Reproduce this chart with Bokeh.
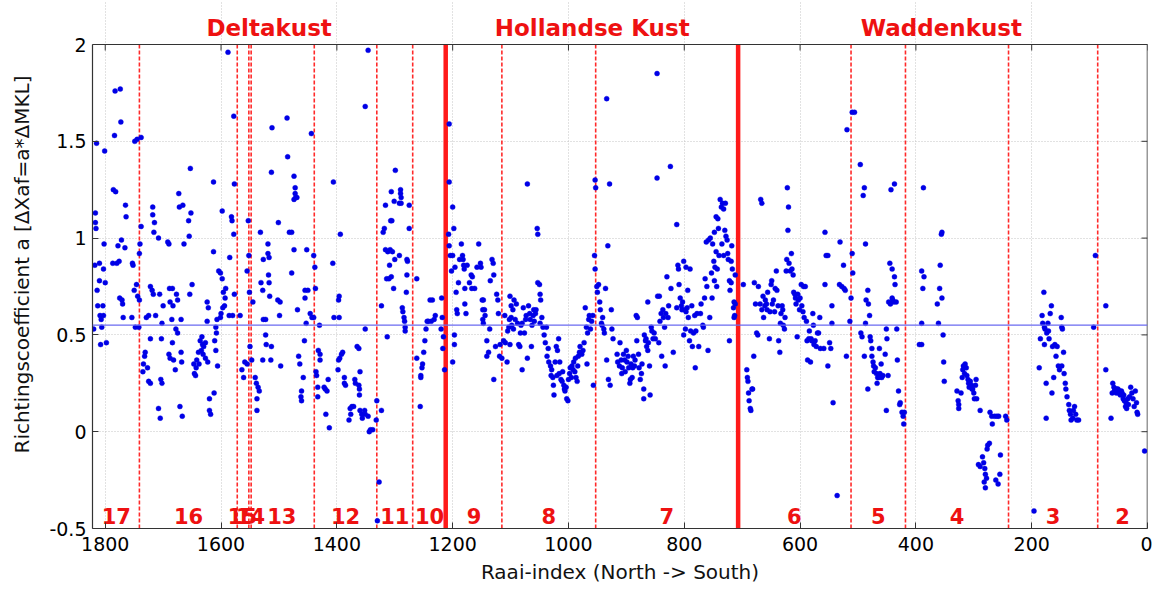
from bokeh.plotting import figure
from bokeh.models import Range1d, FixedTicker, Span, ColumnDataSource
from bokeh.core.properties import value
from bokeh.embed import file_html
from bokeh.resources import INLINE

# ---------------- data ----------------
delta_x = [1820, 1818, 1815, 1817, 1817, 1816, 1810, 1814, 1813, 1810, 1809, 1807, 1806, 1808, 1804, 1803, 1801, 1800, 1802, 1798, 1803,
           1786, 1782, 1783, 1774, 1784, 1773, 1787, 1780, 1776, 1778, 1772, 1765, 1764, 1766, 1775, 1771, 1770, 1769,
           1753, 1752, 1754, 1750, 1746, 1744, 1741, 1748, 1749, 1745, 1738, 1741, 1740, 1738, 1742,
           1731, 1732, 1734, 1735, 1727, 1725, 1722, 1729, 1725, 1722, 1719, 1717, 1713, 1722, 1718, 1718, 1715, 1716, 1708, 1706, 1703, 1702, 1700, 1704, 1702, 1708, 1705,
           1692, 1690, 1689, 1684, 1688, 1683, 1685, 1684, 1690, 1688, 1682, 1679, 1677, 1675, 1678, 1675, 1669, 1669, 1668, 1673, 1672, 1666, 1671, 1667, 1664, 1655, 1656, 1652, 1653, 1654, 1650,
           1647, 1646, 1644, 1643, 1642, 1639, 1636, 1633, 1632, 1630, 1638, 1634, 1631, 1627, 1623, 1627, 1624, 1624, 1622, 1620, 1620, 1618, 1612, 1613, 1613, 1609, 1608, 1611, 1609, 1606, 1607,
           1604, 1601, 1598, 1596, 1593, 1594, 1597, 1600, 1601, 1592, 1598, 1588, 1585, 1582, 1581, 1578, 1577, 1578, 1586, 1577, 1580,
           1567, 1564, 1561, 1559, 1555, 1555, 1553, 1552, 1551, 1550, 1547,
           1545, 1541, 1539, 1536, 1534, 1538, 1538, 1532, 1528, 1528, 1531, 1527, 1527,
           1519, 1519, 1517, 1518, 1517, 1516, 1523, 1523, 1522, 1513, 1514, 1512, 1513, 1501, 1502, 1498, 1499, 1497, 1486, 1485, 1482, 1478, 1478, 1474, 1474, 1472, 1472, 1471, 1474, 1469,
           1468, 1466, 1464, 1461, 1462, 1461, 1458, 1456, 1455, 1455, 1450, 1452, 1453, 1446, 1443, 1444, 1440, 1438, 1437, 1440,
           1436, 1435, 1433, 1433, 1430, 1432, 1429, 1429, 1422, 1420, 1417, 1415, 1419, 1413, 1406, 1407, 1405, 1398, 1397, 1395, 1392, 1390, 1397, 1396, 1396, 1394,
           1387, 1387, 1385, 1369, 1365, 1362, 1368, 1362, 1361, 1361, 1360, 1351, 1377, 1374, 1371, 1379, 1376, 1360, 1357, 1356, 1352, 1351, 1346, 1344, 1342, 1338, 1332, 1331, 1351, 1346, 1327, 1330,
           1323, 1323, 1320, 1318, 1316, 1313, 1316, 1312, 1308, 1304, 1314, 1310, 1306, 1309, 1307, 1305, 1306, 1301, 1299, 1302, 1300, 1292, 1290, 1290, 1289, 1289, 1292,
           1287, 1286, 1284, 1283, 1282, 1282, 1280, 1279, 1278, 1279, 1275, 1275,
           1262, 1262, 1256, 1255, 1255, 1253, 1252, 1250, 1248, 1246, 1244, 1242, 1239, 1235, 1237, 1232, 1230, 1219, 1218, 1220, 1216, 1217, 1214]
delta_y = [0.53, 0.86, 1.49, 1.08, 1.13, 1.05, 0.87, 0.73, 0.65, 0.78, 0.60, 0.58, 0.54, 0.45, 0.65, 0.84, 1.45, 0.77, 0.97, 0.46, 0.60,
           1.25, 1.24, 1.76, 1.77, 1.53, 1.60, 0.87, 0.87, 0.88, 0.96, 0.99, 1.17, 1.11, 0.95, 0.69, 0.68, 0.66, 0.59,
           0.87, 0.86, 0.59, 0.73, 0.76, 0.70, 0.68, 0.54, 1.50, 1.51, 1.52, 0.92, 0.97, 1.06, 0.54,
           0.41, 0.39, 0.35, 0.31, 0.33, 0.26, 0.25, 0.59, 0.60, 0.75, 0.73, 0.71, 0.60, 0.48, 1.16, 1.12, 1.08, 1.03, 1.00, 0.71, 0.48, 0.56, 0.65, 0.27, 0.25, 0.12, 0.07,
           0.98, 0.97, 0.74, 0.74, 0.67, 0.65, 0.58, 0.46, 0.40, 0.38, 0.37, 0.32, 0.71, 0.68, 0.53, 0.51, 0.58, 0.41, 0.36, 1.23, 1.16, 1.17, 0.13, 0.08, 0.97, 1.01, 1.09, 1.13, 1.36, 0.71, 0.76,
           0.35, 0.30, 0.29, 0.33, 0.37, 0.41, 0.47, 0.49, 0.45, 0.44, 0.35, 0.42, 0.40, 0.38, 0.36, 0.46, 0.57, 0.67, 0.64, 0.17, 0.11, 0.09, 0.20, 0.93, 1.29, 0.54, 0.51, 0.47, 0.42, 0.34, 0.58,
           0.83, 0.82, 0.79, 0.72, 0.69, 0.65, 0.64, 0.61, 0.59, 0.74, 1.14, 1.96, 0.90, 1.11, 1.09, 1.63, 1.28, 1.02, 0.60, 0.71, 0.60,
           0.60, 0.32, 0.28, 0.36, 0.35, 0.83, 1.09, 0.91, 0.72, 0.44, 0.37,
           0.67, 0.28, 0.25, 0.23, 0.21, 0.17, 0.11, 1.03, 0.37, 0.73, 0.77, 0.58, 0.89,
           0.97, 0.92, 0.90, 0.81, 0.77, 0.70, 0.58, 0.50, 0.45, 0.44, 0.37, 1.57, 1.34, 1.08, 0.68, 0.67, 0.60, 0.34, 1.62, 1.42, 1.03, 1.03, 0.82, 0.94, 1.32, 1.26, 1.23, 1.21, 1.20, 1.21,
           0.63, 0.39, 0.35, 0.21, 0.18, 0.16, 0.28, 0.47, 0.69, 0.73, 0.73, 0.94, 0.56, 0.61, 0.59, 1.54, 0.91, 0.85, 0.74, 0.59,
           0.31, 0.29, 0.23, 0.18, 0.55, 0.42, 0.40, 0.37, 0.23, 0.22, 0.21, 0.27, 0.09, 0.02, 1.29, 0.87, 0.59, 0.32, 0.37, 0.38, 0.40, 0.41, 0.68, 0.70, 0.59, 1.02,
           0.28, 0.25, 0.24, 0.27, 0.44, 0.43, 0.25, 0.24, 0.22, 0.19, 0.31, 0.53, 0.12, 0.13, 0.13, 0.06, 0.09, 0.11, 0.09, 0.07, 0.11, 0.09, 0.08, 0.00, 0.01, 0.01, 0.06, 0.16, 1.68, 1.97, -0.26, -0.46,
           0.11, 0.65, 1.03, 1.05, 1.17, 0.49, 0.94, 0.93, 0.94, 0.93, 0.79, 0.79, 0.80, 0.86, 1.09, 1.09, 1.24, 1.19, 1.35, 0.74, 0.89, 0.91, 1.25, 1.23, 1.21, 1.18, 1.18,
           0.64, 0.62, 0.59, 0.57, 0.54, 0.52, 0.72, 0.89, 0.88, 0.81, 1.05, 1.17,
           0.79, 0.38, 0.13, 0.28, 0.29, 0.33, 0.35, 0.41, 0.47, 0.53, 0.57, 0.57, 0.68, 0.68, 0.57, 0.58, 0.60, 0.69, 0.59, 0.53, 0.49, 0.43, 0.32]

holland_x = [1206, 1206, 1200, 1198, 1207, 1206, 1204, 1202, 1200, 1196, 1194, 1190, 1193, 1192, 1197, 1197, 1200,
             1188, 1185, 1183, 1182, 1181, 1180, 1179, 1179, 1177, 1175, 1171, 1168, 1166, 1167, 1162, 1158, 1155, 1152, 1151,
             1149, 1148, 1148, 1147, 1145, 1144, 1147, 1141, 1141, 1138, 1136, 1135, 1132, 1130, 1129, 1129, 1126, 1124, 1122, 1121, 1119, 1118, 1115,
             1112, 1110, 1109, 1106, 1105, 1103, 1102, 1101, 1099, 1101, 1099, 1098, 1096, 1095, 1094, 1092, 1090, 1088, 1086, 1084, 1083, 1082, 1080, 1080,
             1078, 1076, 1074, 1073, 1071, 1071, 1069, 1067, 1066, 1064, 1063, 1061, 1060, 1059, 1057, 1056, 1054, 1053, 1053, 1050, 1049, 1048, 1049, 1046, 1044,
             1042, 1040, 1038, 1037, 1035, 1034, 1031, 1030, 1029, 1027, 1026, 1025, 1023, 1021, 1020, 1019, 1017, 1016, 1015, 1013, 1011, 1010, 1008, 1007, 1006,
             1004, 1003, 1001, 1000, 998, 997, 995, 994, 992, 991, 989, 988, 987, 985, 984, 983, 981, 980, 977, 975, 973, 971, 969, 968, 967, 965, 964, 962, 960, 958, 957, 955, 954, 954, 953,
             951, 950, 948, 946, 945, 943, 942, 941, 939, 938, 936, 934, 932, 934, 931, 929, 928, 926, 925, 923,
             916, 915, 912, 911, 909, 908, 907, 905, 903, 902, 900, 899, 897, 896, 894, 893, 892, 890, 889, 888, 886, 885, 883, 882, 881,
             879, 878, 876, 874, 873, 870, 870, 869, 867, 866, 865, 863, 863, 862, 860, 859, 857, 856, 854, 852, 850, 847, 847,
             846, 844, 843, 842, 840, 839, 837, 836, 834, 833, 832, 830, 828, 827, 824, 823, 819, 813, 811, 810, 809, 813, 807, 805, 804, 803, 801, 801,
             800, 798, 797, 797, 795, 794, 793, 791, 790, 789, 787, 786, 784, 782, 781, 780, 778, 775, 772, 771, 768, 767, 765, 764, 762, 761, 759, 758,
             756, 755, 753, 752, 751, 749, 748, 748, 747, 745, 745, 744, 743, 742, 741, 740, 738, 736, 735, 734, 732, 732, 730, 729, 728, 726, 725, 724,
             722, 722, 721, 719, 719, 718, 717, 715, 714, 714, 713, 712, 712]
holland_y = [1.59, 1.29, 1.16, 1.05, 1.02, 0.96, 0.91, 0.83, 0.91, 0.85, 0.72, 0.77, 0.63, 0.61, 0.50, 0.45, 0.36,
             0.89, 0.97, 0.91, 0.89, 0.86, 0.84, 0.74, 0.66, 0.61, 0.86, 0.77, 0.81, 0.80, 0.74, 0.74, 0.85, 0.97, 0.87, 0.85,
             0.68, 0.63, 0.58, 0.68, 0.63, 0.60, 0.56, 0.47, 0.39, 0.41, 0.53, 0.78, 0.89, 0.87, 0.81, 0.27, 0.44, 0.71, 0.68, 0.61, 0.39, 0.45, 0.38,
             0.47, 0.60, 0.46, 0.36, 0.52, 0.54, 0.58, 0.70, 0.65, 0.45, 0.59, 0.55, 0.63, 0.53, 0.68, 0.58, 0.66, 0.56, 0.45, 0.44, 0.51, 0.55, 0.32, 0.56,
             0.64, 0.51, 0.58, 0.60, 1.28, 0.38, 0.65, 0.61, 0.58, 0.44, 0.55, 0.60, 0.63, 0.57, 0.61, 0.63, 1.05, 1.02, 0.77, 0.76, 0.71, 0.68, 0.56, 0.59, 0.54,
             0.50, 0.46, 0.54, 0.39, 0.43, 0.36, 0.34, 0.29, 0.32, 0.28, 0.24, 0.19, 0.36, 0.44, 0.29, 0.42, 0.48, 0.30, 0.36, 0.27, 0.26, 0.31, 0.24, 0.22, 0.21,
             0.23, 0.17, 0.16, 0.27, 0.30, 0.33, 0.28, 0.34, 0.32, 0.36, 0.31, 0.38, 0.28, 0.26, 0.34, 0.39, 0.41, 0.44, 0.40, 0.42, 0.46, 0.64, 0.54, 0.35, 0.51, 0.58, 0.60, 0.53, 0.57, 0.60, 0.24, 0.91, 0.84, 1.30, 1.26,
             0.75, 0.72, 0.76, 0.67, 0.63, 0.56, 0.55, 0.59, 0.53, 0.51, 0.74, 1.72, 0.96, 0.37, 0.27, 1.28, 0.24, 0.63, 0.53, 0.48,
             0.40, 0.36, 0.34, 0.46, 0.37, 0.30, 0.33, 0.40, 0.37, 0.31, 0.42, 0.36, 0.39, 0.33, 0.25, 0.27, 0.35, 0.28, 0.33, 0.39, 0.34, 0.37, 0.60, 0.47, 0.59,
             0.40, 0.33, 0.27, 0.30, 0.35, 0.17, 0.22, 0.50, 0.47, 0.48, 0.44, 0.67, 0.42, 0.46, 0.34, 0.19, 0.54, 0.52, 0.48, 0.51, 0.48, 1.31, 1.85,
             0.70, 0.46, 0.70, 0.57, 0.61, 0.39, 0.63, 0.59, 0.54, 0.34, 0.61, 0.80, 0.59, 0.65, 1.37, 0.74, 0.41, 1.07, 0.86, 0.84, 0.76, 0.64, 0.69, 0.65, 0.63, 0.67, 0.88, 0.50,
             0.63, 0.53, 0.62, 0.85, 0.64, 0.73, 0.59, 0.47, 0.84, 0.52, 0.65, 0.44, 0.51, 0.60, 0.33, 0.52, 0.61, 0.44, 0.61, 0.66, 0.55, 0.54, 0.69, 0.79, 0.98, 0.75, 0.42, 0.99,
             0.59, 1.00, 0.82, 0.69, 0.97, 0.88, 0.78, 1.03, 0.85, 0.93, 1.11, 0.75, 0.84, 1.10, 1.05, 0.91, 1.20, 1.16, 0.97, 1.18, 1.15, 0.91, 1.04, 1.18, 1.01, 0.99, 0.92, 0.89,
             0.47, 0.78, 0.73, 0.88, 0.77, 0.96, 0.84, 0.64, 0.59, 0.67, 0.60, 0.81, 0.66]

wadden_x = [698, 692, 691, 690, 689, 688, 686, 685, 683, 682, 680, 679, 677, 675, 673, 672, 669, 668, 666, 666, 664, 663, 661, 660, 658, 657, 656, 653, 652,
            650, 649, 648, 646, 644, 643, 641, 640, 638, 637, 635, 634, 633, 631, 630, 629, 627, 626, 624, 623, 622, 621, 620, 619, 617,
            615, 614, 612, 611, 609, 608, 607, 605, 604, 603, 601, 600, 598, 597, 595, 594, 593, 591, 589, 588, 587, 585, 584, 582, 581, 580, 578, 577, 576, 574, 572,
            570, 568, 566, 565, 559, 557, 555, 552, 557, 552, 549, 547, 545, 545, 543, 536, 532, 531, 528, 525, 524, 522, 520, 519, 514,
            512, 510, 509, 510, 506, 496, 495, 493, 491, 489, 487, 489, 487, 486, 483, 483, 482, 480, 479, 478, 476, 476, 474, 473, 472, 470, 468, 467, 466, 464,
            463, 462, 460, 459, 457, 453, 451, 451, 450, 448, 447, 445, 444, 443, 441, 441, 440, 438, 437, 437, 436, 434, 433, 432, 430, 428, 427, 424, 422, 421, 420,
            394, 390, 390, 388, 387, 386, 390, 363, 361, 359, 358, 356, 355, 355, 353, 352, 351,
            329, 327, 326, 326, 322, 320, 319, 318, 316, 315, 313, 312, 310, 309, 308, 306, 304, 303, 302, 300, 299, 297, 296, 295, 289,
            272, 269, 268, 264, 260, 257, 245, 243,
            292, 289, 285, 283, 281, 280, 277, 276, 273, 254, 255, 280, 258, 282, 278, 262, 196,
            187, 185, 182, 181, 179, 178, 178, 177, 175, 175, 174, 172, 171, 170, 168, 166, 165, 164, 162, 160, 158, 156, 154, 152, 149, 148, 147, 148, 145, 144,
            142, 141, 139, 136, 135, 133, 132, 129, 128, 126, 124, 122, 119, 93, 90,
            72, 72, 63, 61, 60, 58, 57, 56, 54, 53, 51, 50, 48, 47, 45, 44, 42, 41, 40, 38, 37, 36, 34, 33, 31, 29, 27, 25, 23, 21, 19, 18, 17, 5]
wadden_y = [0.76, 0.32, 0.28, 0.26, 0.20, 0.16, 0.12, 0.11, 0.22, 0.22, 0.39, 0.77, 0.66, 0.51, 0.50, 0.75, 0.66, 1.20, 1.18, 0.63, 0.70, 0.59, 0.65, 0.68, 0.66, 0.63, 0.72, 0.48, 0.62,
            0.76, 0.78, 0.66, 0.68, 0.62, 0.74, 0.83, 0.73, 0.65, 0.47, 0.41, 0.56, 0.61, 0.65, 0.63, 0.55, 0.53, 0.59, 0.83, 0.89, 1.26, 1.04, 1.16, 0.87, 0.83,
            0.92, 0.84, 0.81, 0.72, 0.71, 0.69, 0.66, 0.49, 0.71, 0.68, 0.63, 0.69, 0.76, 0.65, 0.62, 0.75, 0.59, 0.75, 0.57, 0.47, 0.37, 0.48, 0.52, 0.36, 0.48, 0.47, 0.61, 0.55, 0.45, 0.47, 0.44,
            0.51, 0.51, 0.59, 0.43, 0.43, 1.03, 0.91, 0.91, 0.76, 0.34, 0.46, 0.43, 0.65, 0.56, 0.15, -0.33, 0.76, 0.98, 0.75, 0.86, 0.74, 0.73, 0.39, 1.56, 0.57,
            0.69, 0.92, 0.82, 1.65, 1.65, 1.38, 0.51, 0.49, 1.22, 1.26, 0.97, 0.39, 0.56, 0.68, 0.73, 0.22, 0.66, 0.60, 0.49, 0.47, 0.43, 0.39, 0.36, 0.34, 0.31, 0.33, 0.30, 0.25, 0.28, 0.28,
            0.43, 0.30, 0.35, 0.28, 0.29, 0.40, 0.11, 0.53, 0.48, 0.29, 0.67, 0.87, 0.66, 1.25, 0.84, 0.69, 0.68, 0.67, 1.28, 0.80, 0.76, 0.67, 0.53, 0.37, 0.21, 0.14, 0.15, 0.10, 0.08, 0.04, 0.10,
            0.45, 0.45, 0.83, 0.74, 1.26, 0.80, 0.56, 0.66, 0.56, 0.74, 0.86, 1.02, 1.03, 0.69, 0.50, 0.36, 0.26,
            0.21, 0.16, 0.14, 0.12, 0.20, 0.28, 0.32, 0.34, 0.30, 0.35, 0.33, 0.29, 0.27, 0.25, 0.23, 0.26, 0.24, 0.22, 0.22, 0.20, 0.17, 0.24, 0.27, 0.17, 0.11,
            0.10, 0.08, 0.04, 0.08, 0.08, 0.08, 0.08, 0.06,
            -0.17, -0.18, -0.13, -0.16, -0.19, -0.22, -0.09, -0.07, -0.06, -0.12, -0.22, -0.29, -0.27, -0.26, -0.24, -0.25, -0.41,
            0.33, 0.48, 0.60, 0.56, 0.72, 0.45, 0.54, 0.53, 0.07, 0.25, 0.51, 0.56, 0.52, 0.48, 0.61, 0.65, 0.20, 0.44, 0.28, 0.45, 0.39, 0.44, 0.34, 0.32, 0.59, 0.54, 0.53, 0.34, 0.41, 0.30,
            0.25, 0.22, 0.18, 0.14, 0.11, 0.09, 0.06, 0.07, 0.11, 0.13, 0.09, 0.06, 0.06, 0.54, 0.91,
            0.65, 0.32, 0.07, 0.20, 0.25, 0.23, 0.21, 0.22, 0.20, 0.22, 0.22, 0.20, 0.21, 0.19, 0.21, 0.20, 0.17, 0.19, 0.16, 0.13, 0.15, 0.12, 0.17, 0.14, 0.18, 0.23, 0.20, 0.17, 0.13, 0.21, 0.15, 0.10, 0.09, -0.10]

mean_a = 0.55
section_bounds = [1741, 1572, 1552, 1548, 1439, 1331, 1269, 1115, 953, 512, 418, 240, 86]
region_bounds = [1212, 707]
section_labels = ["17", "16", "15", "14", "13", "12", "11", "10", "9", "8", "7", "6", "5", "4", "3", "2"]
section_label_x = [1781, 1656, 1563, 1549, 1495, 1385, 1300, 1240, 1163, 1034, 830, 610, 465, 329, 163, 43]
region_names = ["Deltakust", "Hollandse Kust", "Waddenkust"]
region_name_x = [1517, 959, 356]
x_ticks = [0, 200, 400, 600, 800, 1000, 1200, 1400, 1600, 1800]
y_ticks = [-0.5, 0, 0.5, 1, 1.5, 2]
y_tick_labels = ["-0.5", "0", "0.5", "1", "1.5", "2"]
x_lo, x_hi = 1822, 0
y_lo, y_hi = -0.5, 2.0

# ---------------- layout constants ----------------
FONT = "DejaVu Sans"
RED = "#ee1111"
FRAME_H_AXES = 484              # pixel height of the boxed axes area
STRIP = 44                      # pixel strip above the box for region names
px_per_unit = FRAME_H_AXES / (y_hi - y_lo)
y_top = y_hi + STRIP / px_per_unit
name_y = y_hi + (STRIP - 27) / px_per_unit
number_y = y_lo + 13 / px_per_unit

p = figure(frame_width=1055, frame_height=FRAME_H_AXES + STRIP, output_backend="svg", toolbar_location=None,
           x_range=Range1d(x_lo, x_hi), y_range=Range1d(y_lo, y_top),
           min_border_left=92, min_border_right=5, min_border_top=0, min_border_bottom=62)
p.background_fill_color = "white"
p.border_fill_color = "white"
p.outline_line_color = None

for ax in (p.xaxis[0], p.yaxis[0]):
    ax.major_tick_in = 6
    ax.major_tick_out = 0
    ax.minor_tick_line_color = None
    ax.axis_line_color = "#333333"
    ax.axis_line_width = 1.2
    ax.major_tick_line_color = "#333333"
    ax.major_label_text_font = FONT
    ax.major_label_text_font_size = "19px"
    ax.major_label_text_color = "black"
    ax.axis_label_text_font = FONT
    ax.axis_label_text_font_size = "20px"
    ax.axis_label_text_font_style = "normal"
    ax.axis_label_text_color = "#111111"

p.xaxis[0].ticker = FixedTicker(ticks=x_ticks)
p.yaxis[0].ticker = FixedTicker(ticks=y_ticks)
p.yaxis[0].bounds = (y_lo, y_hi)
p.yaxis[0].major_label_overrides = {t: s for t, s in zip(y_ticks, y_tick_labels)}
p.xaxis[0].axis_label = "Raai-index (North -> South)"
p.yaxis[0].axis_label = "Richtingscoefficient a [\u0394Xaf=a*\u0394MKL]"
p.xaxis[0].major_label_standoff = 8
p.yaxis[0].major_label_standoff = 6
p.xaxis[0].axis_label_standoff = 6
p.yaxis[0].axis_label_standoff = 12

for g in (p.xgrid[0], p.ygrid[0]):
    g.grid_line_color = "#c4c4c4"
    g.grid_line_dash = "1 2"
    g.grid_line_width = 1
p.xgrid[0].ticker = FixedTicker(ticks=x_ticks)
p.ygrid[0].ticker = FixedTicker(ticks=y_ticks)
p.xgrid[0].bounds = (y_lo, y_hi)

# box top and right edges
p.add_layout(Span(location=y_hi, dimension="width", line_color="#333333", line_width=1.2))
p.segment(x0=[x_hi], y0=[y_lo], x1=[x_hi], y1=[y_hi], line_color="#333333", line_width=1.5)
# inward ticks on top and right edges
tick_len_x = 6 / (1055 / (x_lo - x_hi))
tick_len_y = 6 / px_per_unit
p.segment(x0=x_ticks, y0=[y_hi] * len(x_ticks), x1=x_ticks, y1=[y_hi - tick_len_y] * len(x_ticks),
          line_color="#333333", line_width=1)
p.segment(x0=[x_hi] * len(y_ticks), y0=y_ticks, x1=[x_hi + tick_len_x] * len(y_ticks), y1=y_ticks,
          line_color="#333333", line_width=1)

# mean line
p.add_layout(Span(location=mean_a, dimension="width", line_color="#6a6af0", line_width=1.2))

# section and region boundaries
p.segment(x0=section_bounds, y0=[y_lo] * len(section_bounds), x1=section_bounds, y1=[y_hi] * len(section_bounds),
          line_color="#ff2a2a", line_width=1.6, line_dash="4 2")
p.segment(x0=region_bounds, y0=[y_lo] * len(region_bounds), x1=region_bounds, y1=[y_hi] * len(region_bounds),
          line_color="#ff1a1a", line_width=4.5)

# points
src = ColumnDataSource(dict(x=delta_x + holland_x + wadden_x, y=delta_y + holland_y + wadden_y))
p.scatter("x", "y", source=src, size=5, fill_color="#0000e6", line_color="#0000e6", line_width=0.4)

# section numbers
lab_src = ColumnDataSource(dict(x=section_label_x, y=[number_y] * len(section_label_x), t=section_labels))
p.text("x", "y", text="t", source=lab_src, text_font=value(FONT), text_font_style="bold",
       text_font_size="21px", text_color=RED, text_align="center", text_baseline="middle")

# region names above the box
tsrc = ColumnDataSource(dict(x=region_name_x, y=[name_y] * len(region_name_x), t=region_names))
p.text("x", "y", text="t", source=tsrc, text_font=value(FONT), text_font_style="bold",
       text_font_size="23px", text_color=RED, text_align="center", text_baseline="middle")

open("out.html", "w").write(file_html(p, INLINE))
